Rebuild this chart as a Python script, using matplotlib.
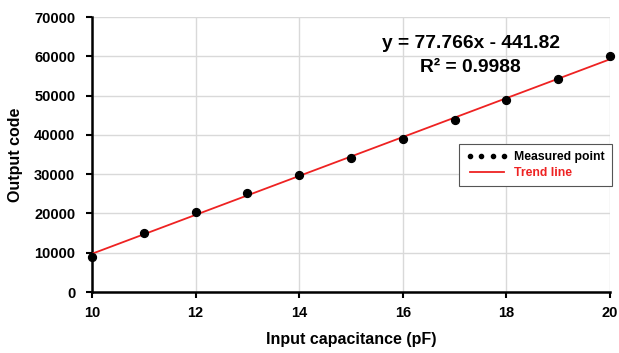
import numpy as np
import matplotlib
matplotlib.use("Agg")
import matplotlib.pyplot as plt
from matplotlib.lines import Line2D

plt.rcParams['font.family'] = ['Liberation Sans', 'DejaVu Sans']

capacitance = [10, 11, 12, 13, 14, 15, 16, 17, 18, 19, 20]
output_code = [8900, 15000, 20400, 25200, 29800, 34100, 39000, 43800, 48900, 54200, 60100]
equation_text = "y = 77.766x - 441.82"
r2_text = "R\u00b2 = 0.9988"
x_ticks = [10, 12, 14, 16, 18, 20]
y_ticks = [0, 10000, 20000, 30000, 40000, 50000, 60000, 70000]

fig = plt.figure(figsize=(6.19, 3.53), dpi=100)
ax = fig.add_axes([0.1486, 0.1728, 0.8369, 0.779])

coef = np.polyfit(capacitance, output_code, 1)
xs = np.array([capacitance[0], capacitance[-1]])
ax.plot(xs, np.polyval(coef, xs), color='#ee2222', lw=1.3, zorder=3)
ax.scatter(capacitance, output_code, s=32, color='black', zorder=4, clip_on=False)

ax.set_xlim(10, 20)
ax.set_ylim(0, 70000)
ax.set_xticks(x_ticks)
ax.set_yticks(y_ticks)
ax.grid(True, color='#d9d9d9', lw=1)
ax.set_axisbelow(True)
for s in ['top', 'right']:
    ax.spines[s].set_visible(False)
for s in ['left', 'bottom']:
    ax.spines[s].set_linewidth(1.8)
ax.tick_params(axis='both', length=4, width=1.5, labelsize=10.5)
for lbl in ax.get_xticklabels() + ax.get_yticklabels():
    lbl.set_fontweight('bold')
ax.tick_params(axis='x', pad=6)
ax.tick_params(axis='y', pad=8)

ax.set_xlabel("Input capacitance (pF)", fontsize=11.5, fontweight='bold', labelpad=9)
ax.set_ylabel("Output code", fontsize=11.5, fontweight='bold', labelpad=8)

ax.text(0.731, 0.905, equation_text, transform=ax.transAxes, ha='center', va='center',
        fontsize=13.8, fontweight='bold')
ax.text(0.731, 0.815, r2_text, transform=ax.transAxes, ha='center', va='center',
        fontsize=13.8, fontweight='bold')

h1 = Line2D([], [], ls='none', marker='o', ms=3, color='black')
h2 = Line2D([], [], color='#ee2222', lw=1.3)
leg = ax.legend([h1, h2], ["Measured point", "Trend line"], numpoints=4,
                loc='upper left', bbox_to_anchor=(0.708, 0.538),
                fancybox=False, edgecolor='#555555', framealpha=1,
                prop={'weight': 'bold', 'size': 8.8}, handlelength=3.4,
                handletextpad=0.5, borderpad=0.6, labelspacing=0.3,
                borderaxespad=0)
leg.get_frame().set_linewidth(0.8)
leg.get_texts()[1].set_color('#ee2222')

fig.savefig("out.png", dpi=100)
